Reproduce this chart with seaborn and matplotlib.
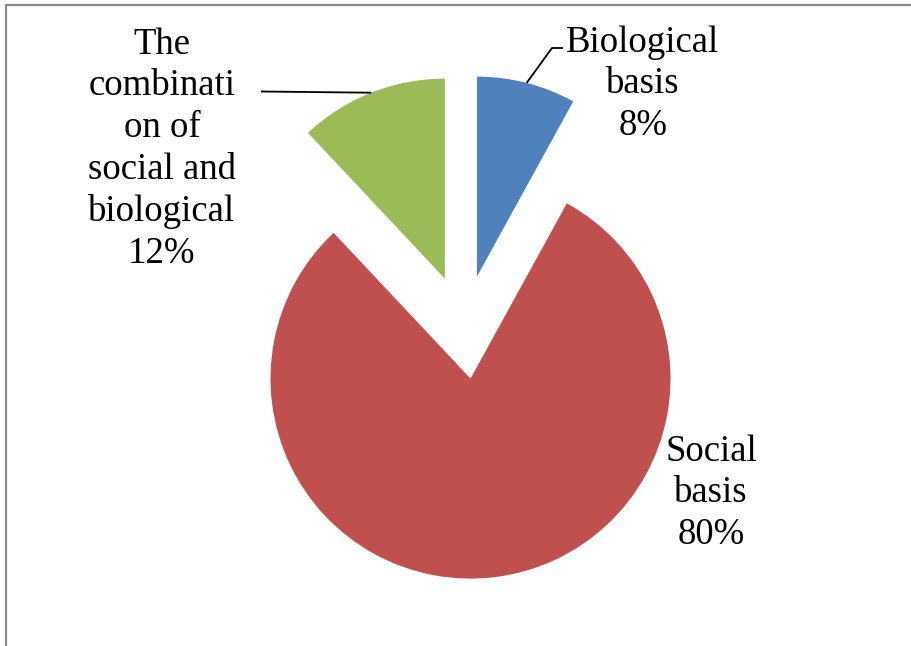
import numpy as np
import matplotlib
matplotlib.use("Agg")
import matplotlib.pyplot as plt
from matplotlib.lines import Line2D
import seaborn as sns

# Survey shares: what is the basis of the phenomenon
categories = ["Biological\nbasis", "Social\nbasis", "The\ncombinati\non of\nsocial and\nbiological"]
shares = [8, 80, 12]
colors = ["#4F81BD", "#C0504D", "#9BBB59"]

sns.set_theme(style="white")
plt.rcParams["font.family"] = ["Liberation Serif", "DejaVu Serif"]

W, H, DPI = 912, 646, 100
fig = plt.figure(figsize=(W / DPI, H / DPI), dpi=DPI)
fig.patch.set_facecolor("white")

# Axes spanning the whole figure; one data unit equals the pie radius (200 px)
ax = fig.add_axes([0, 0, 1, 1])
R_PX = 200.0
CX, CY = 464.0, 327.0

wedges, _ = ax.pie(
    shares,
    colors=colors,
    startangle=90,
    counterclock=False,
    explode=[0.26, 0.26, 0.26],
    radius=1.0,
    wedgeprops=dict(linewidth=0),
)
ax.set_aspect("auto")
ax.set_xlim(-CX / R_PX, (W - CX) / R_PX)
ax.set_ylim(-(H - CY) / R_PX, CY / R_PX)
ax.axis("off")

labels = [f"{c}\n{v}%" for c, v in zip(categories, shares)]
label_pos = [(0.895, 1.215), (1.235, -0.83), (-1.51, 0.89)]
FS = 26.5
for lab, (x, y) in zip(labels, label_pos):
    ax.text(x, y, lab, ha="center", va="center", fontsize=FS,
            color="black", linespacing=1.27, multialignment="center")


def arc_mid(w):
    th = np.deg2rad((w.theta1 + w.theta2) / 2.0)
    cx, cy = w.center
    return cx + w.r * np.cos(th), cy + w.r * np.sin(th)


# Leader line for the biological wedge (elbow to the label)
bx, by = arc_mid(wedges[0])
ax.plot([bx, 0.44, 0.495], [by, 1.395, 1.395], color="black", lw=1.3,
        solid_capstyle="butt")

# Leader line for the combined wedge
gx, gy = arc_mid(wedges[2])
ax.plot([gx, -1.015], [gy, 1.1775], color="black", lw=1.3,
        solid_capstyle="butt")

# Chart-area frame (left and top edges visible)
fig.add_artist(Line2D([6.5 / W, 6.5 / W], [0, 1 - 4.5 / H], transform=fig.transFigure,
                      color="#898989", lw=1.6))
fig.add_artist(Line2D([6.5 / W, 1], [1 - 4.5 / H, 1 - 4.5 / H], transform=fig.transFigure,
                      color="#898989", lw=1.6))

fig.savefig("out.png", dpi=DPI, facecolor="white")
